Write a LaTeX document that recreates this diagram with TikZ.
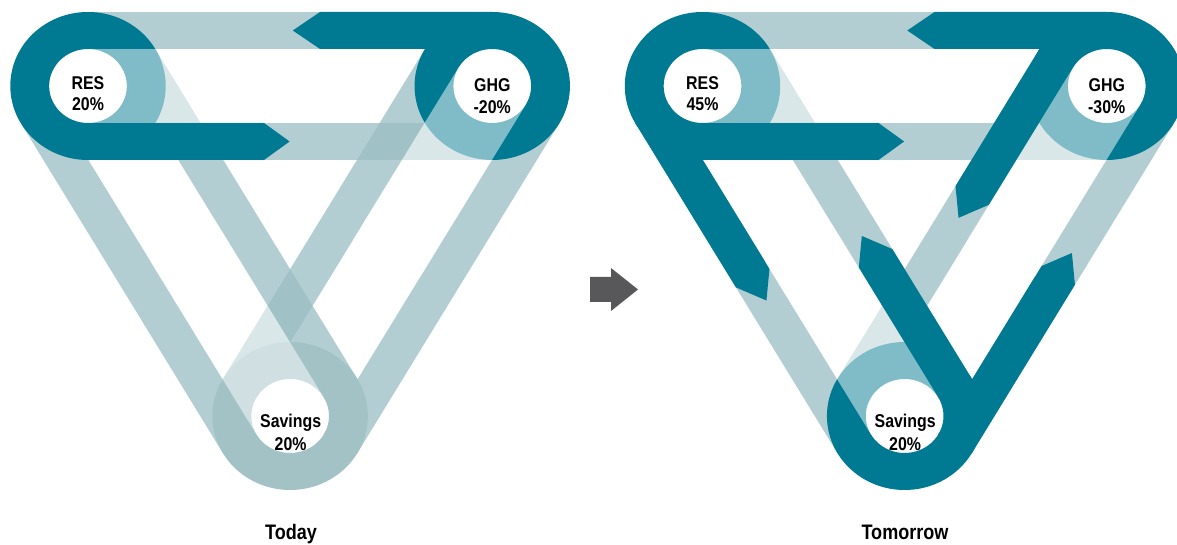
\documentclass[tikz,border=0pt]{standalone}
\usepackage{fontspec}
\newfontfamily\cond{Liberation Sans}[FakeStretch=0.86]
\definecolor{dteal}{RGB}{0,121,146}
\definecolor{lband}{RGB}{154,190,195}
\definecolor{lring}{RGB}{162,194,198}
\definecolor{agray}{RGB}{88,88,90}
\tikzset{
  band/.style={fill=lband, fill opacity=0.75},
  darkfill/.style={fill=dteal},
  veil/.style={fill=white, fill opacity=0.5},
  lbl/.style={font=\cond\bfseries\fontsize{18.5}{20}\selectfont, inner sep=0pt, anchor=base, text=black},
  captxt/.style={font=\cond\bfseries\fontsize{21}{24}\selectfont, inner sep=0pt, anchor=base, text=black},
}
% #1 shift, #2 angle, #3 length, #4 side
\newcommand\bandrect[4]{\fill[band, shift={#1}, rotate=#2] (0,#4*37) -- (#3,#4*37) -- (#3,#4*74) -- (0,#4*74) -- cycle;}
\newcommand\ringshape[2]{\fill[#2, even odd rule] #1 circle[radius=74] #1 circle[radius=37];}
% #1 shift, #2 angle, #3 s_end, #4 s_back, #5 s_tip, #6 side
\newcommand\arrowpoly[6]{\fill[darkfill, shift={#1}, rotate=#2] (#3,#6*37) -- (#4,#6*37) -- (#5,#6*55.5) -- (#4,#6*74) -- (#3,#6*74) -- cycle;}
\newcommand\veilstrip[2]{\fill[veil, shift={#1}, rotate=#2] (0,-37) -- (200,-37) -- (200,37) -- (0,37) -- cycle;}
\newcommand\allbands{%
  \bandrect{(0,0)}{0}{385}{1}
  \bandrect{(0,0)}{0}{385}{-1}
  \bandrect{(0,0)}{-59.74}{382.04}{1}
  \bandrect{(0,0)}{-59.74}{382.04}{-1}
  \bandrect{(385,0)}{-120.26}{382.04}{1}
  \bandrect{(385,0)}{-120.26}{382.04}{-1}}
\newcommand\allveils{%
  \veilstrip{(0,0)}{0}
  \veilstrip{(385,0)}{-120.26}
  \veilstrip{(192.5,-330)}{120.26}}
\begin{document}
\begin{tikzpicture}[x=1pt,y=1pt]
\useasboundingbox (0,0) rectangle (1177,545);
% ---------------- Today ----------------
\begin{scope}[shift={(88,459)}, xscale=1.05]
  \allbands
  \ringshape{(0,0)}{dteal}
  \ringshape{(385,0)}{dteal}
  \ringshape{(192.5,-330)}{lring}
  \arrowpoly{(0,0)}{0}{385}{221}{195}{1}
  \arrowpoly{(0,0)}{0}{0}{167.6}{192}{-1}
  \allveils
  \begin{scope}
    \clip (0,0) circle[radius=37];
    \node[lbl] (resA) at (0,-3.3) {RES};
    \node[lbl] (resAv) at (0,-25) {20\%};
  \end{scope}
  \begin{scope}
    \clip (385,0) circle[radius=37];
    \node[lbl] (ghgA) at (385,-5.7) {GHG};
    \node[lbl] (ghgAv) at (385,-27.3) {-20\%};
  \end{scope}
  \begin{scope}
    \clip (192.5,-330) circle[radius=37];
    \node[lbl] (savA) at (193,-341.7) {Savings};
    \node[lbl] (savAv) at (193,-364.5) {20\%};
  \end{scope}
\end{scope}
% ---------------- Tomorrow ----------------
\begin{scope}[shift={(702.5,459)}, xscale=1.05]
  \allbands
  \ringshape{(0,0)}{dteal}
  \ringshape{(385,0)}{dteal}
  \ringshape{(192.5,-330)}{dteal}
  \arrowpoly{(0,0)}{0}{385}{221}{195}{1}
  \arrowpoly{(0,0)}{0}{0}{167.6}{192}{-1}
  \arrowpoly{(0,0)}{-59.74}{0}{190}{216}{-1}
  \arrowpoly{(0,0)}{-59.74}{382.04}{232}{206}{1}
  \arrowpoly{(385,0)}{-120.26}{0}{159}{185}{-1}
  \arrowpoly{(385,0)}{-120.26}{382.04}{187}{161}{1}
  \allveils
  \begin{scope}
    \clip (0,0) circle[radius=37];
    \node[lbl] (resB) at (0,-3.3) {RES};
    \node[lbl] (resBv) at (0,-25) {45\%};
  \end{scope}
  \begin{scope}
    \clip (385,0) circle[radius=37];
    \node[lbl] (ghgB) at (385,-5.7) {GHG};
    \node[lbl] (ghgBv) at (385,-27.3) {-30\%};
  \end{scope}
  \begin{scope}
    \clip (192.5,-330) circle[radius=37];
    \node[lbl] (savB) at (193,-341.7) {Savings};
    \node[lbl] (savBv) at (193,-364.5) {20\%};
  \end{scope}
\end{scope}
% ---------------- transition arrow and captions ----------------
\fill[agray] (590,268) -- (611,268) -- (611,277) -- (638,255.5) -- (611,234) -- (611,243) -- (590,243) -- cycle;
\node[captxt] (today) at (291,5) {Today};
\node[captxt] (tomorrow) at (905,5) {Tomorrow};
\end{tikzpicture}
\end{document}
